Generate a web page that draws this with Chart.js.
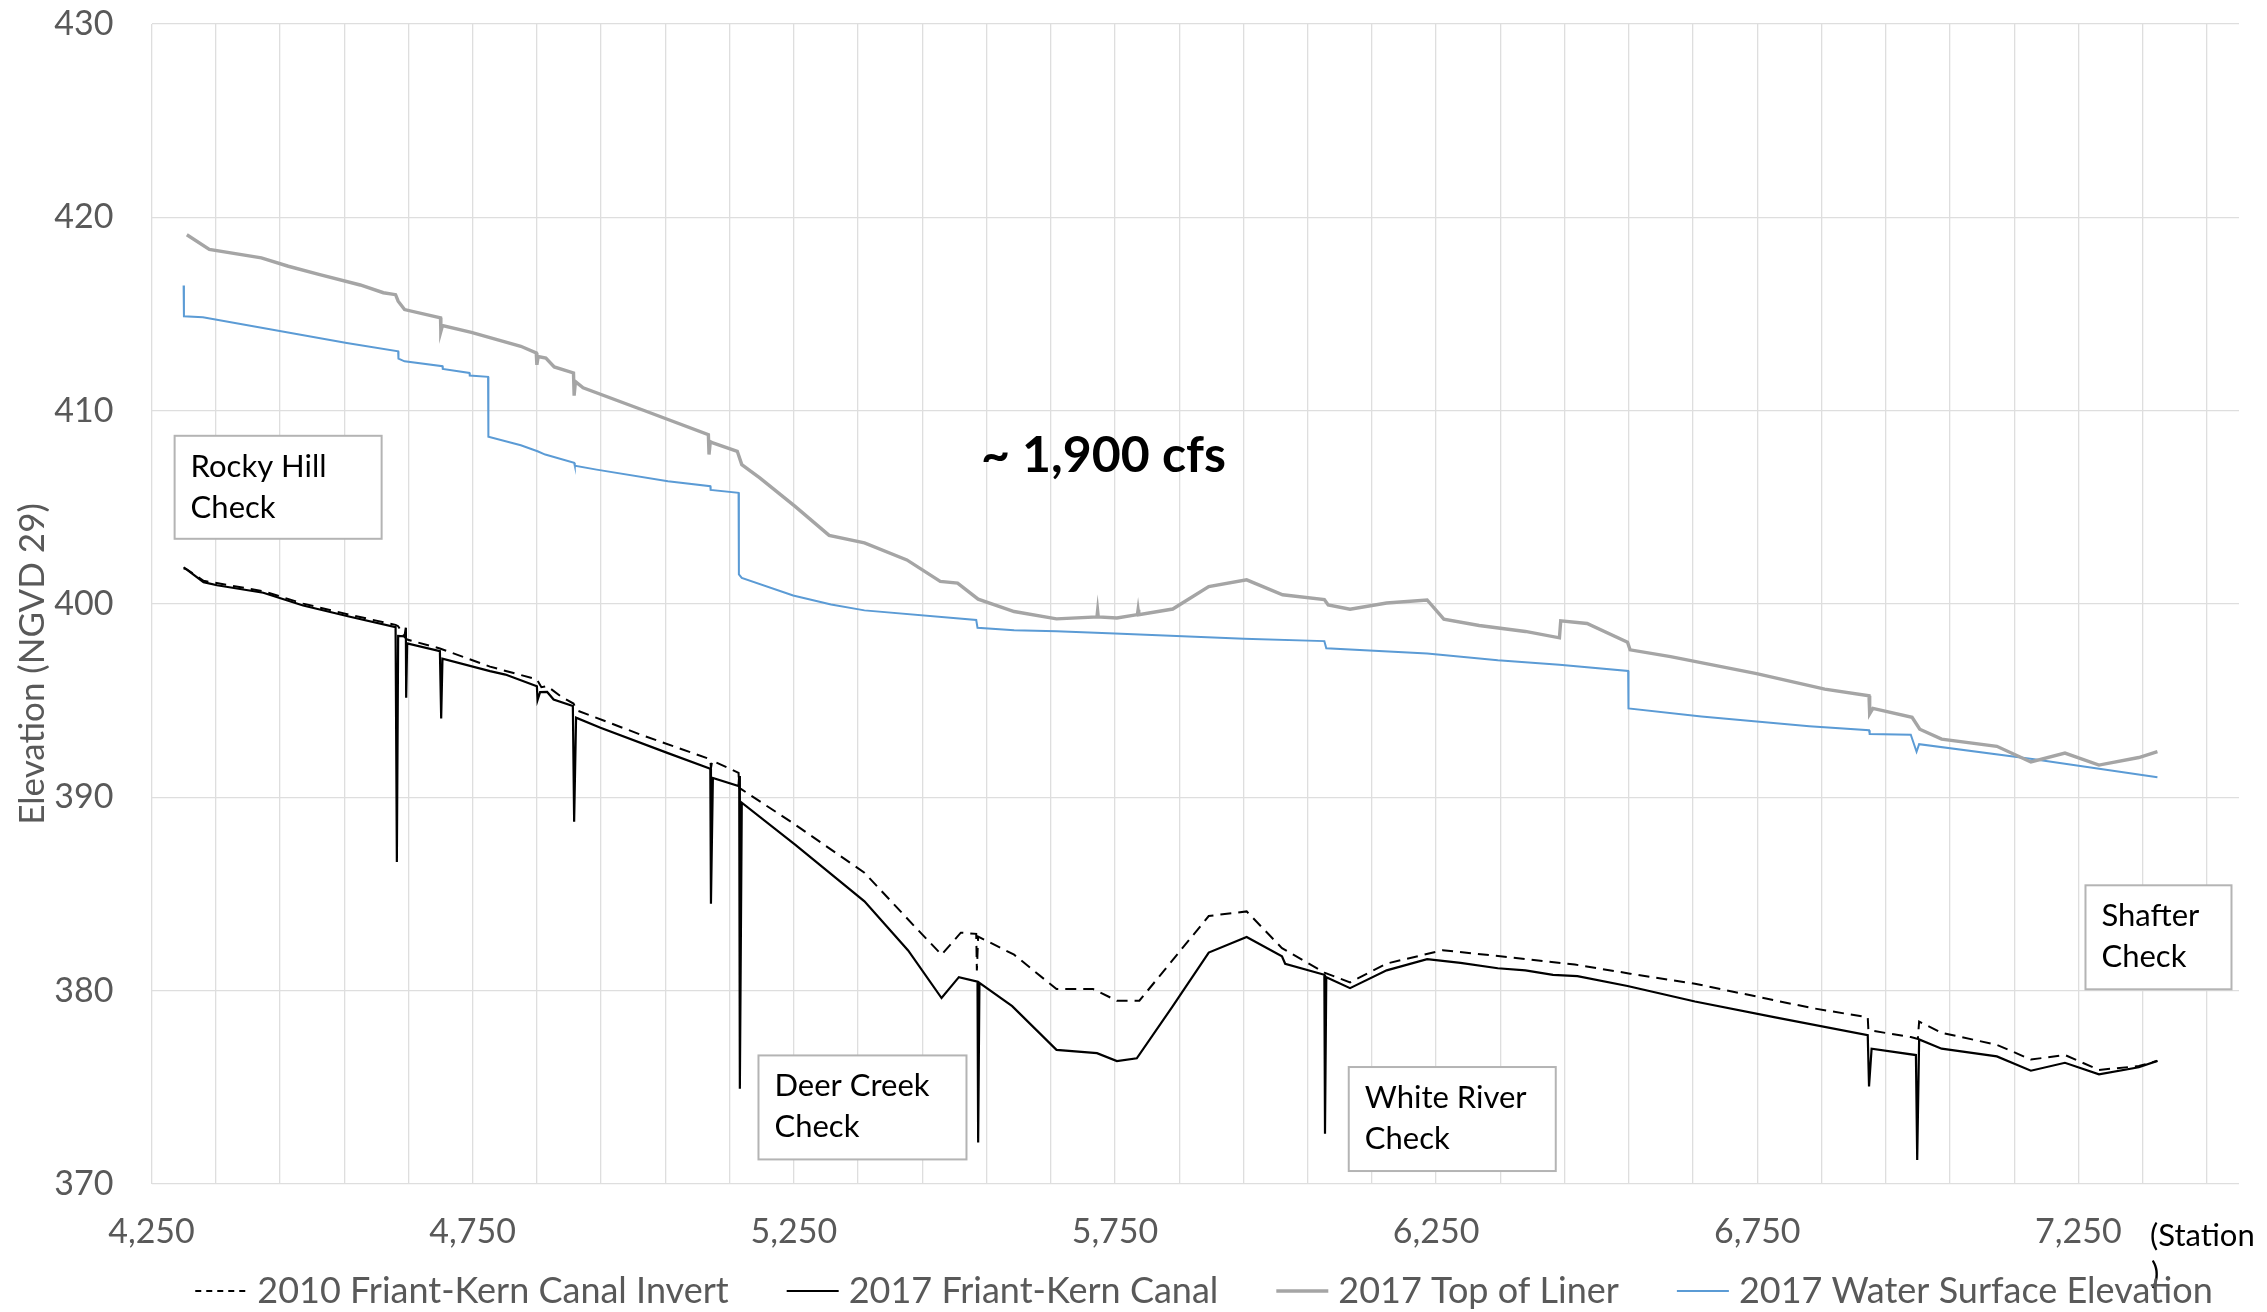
<!DOCTYPE html>
<html>
<head>
<meta charset="utf-8">
<script src="https://cdn.jsdelivr.net/npm/chart.js@4"></script>
<style>
  html, body { margin: 0; padding: 0; background: #fff; }
  #wrap { width: 2267px; height: 1312px; }
</style>
</head>
<body>
<div id="wrap"><canvas id="myChart" width="2267" height="1312"></canvas></div>
<script>
// station labels on the x axis, elevation ticks on the y axis
const stationLabels = [4250, 4750, 5250, 5750, 6250, 6750, 7250];
const elevTicks = [370, 380, 390, 400, 410, 420, 430];

// 2010 Friant-Kern Canal Invert
const invert2010Station = [4300, 4331, 4424, 4486, 4559, 4630, 4634, 4644, 4648, 4699, 4777, 4850, 4857, 4866, 4887, 4907, 4912, 5011, 5120, 5121, 5123, 5164, 5165, 5167, 5249, 5360, 5437, 5480, 5510, 5534, 5535, 5537, 5593, 5659, 5716, 5753, 5788, 5896, 5955, 6010, 6076, 6116, 6173, 6260, 6362, 6466, 6552, 6653, 6835, 6922, 6923, 6989, 7000, 7002, 7037, 7123, 7176, 7229, 7282, 7344, 7373];
const invert2010Elev = [401.9, 401.2, 400.66, 400.02, 399.44, 398.92, 398.85, 398.3, 398.16, 397.7, 396.76, 396.1, 395.7, 395.75, 395.23, 394.85, 394.5, 393.25, 391.97, 391.5, 391.9, 391.27, 390.5, 390.45, 388.66, 386.1, 383.36, 381.86, 383.0, 382.94, 381.05, 382.8, 381.86, 380.08, 380.08, 379.48, 379.48, 383.86, 384.1, 382.2, 380.93, 380.43, 381.4, 382.09, 381.74, 381.35, 380.88, 380.36, 379.1, 378.62, 377.96, 377.6, 377.5, 378.4, 377.82, 377.2, 376.44, 376.67, 375.9, 376.1, 376.37];

// 2017 Friant-Kern Canal
const canal2017Station = [4300, 4304, 4331, 4352, 4424, 4486, 4559, 4630, 4632, 4634, 4644, 4646, 4646.5, 4648, 4699, 4701, 4703, 4777, 4801, 4850, 4851, 4855, 4866, 4876, 4906, 4908, 4911, 4949, 5053, 5120, 5121, 5124, 5164, 5165, 5166, 5169, 5252, 5360, 5428, 5480, 5507, 5536, 5537, 5539, 5590, 5659, 5722, 5753, 5784, 5840, 5896, 5955, 6010, 6015, 6076, 6077, 6079, 6116, 6173, 6236, 6288, 6346, 6389, 6432, 6470, 6548, 6653, 6778, 6922, 6924, 6928, 6997, 6999, 7002, 7037, 7123, 7176, 7229, 7282, 7344, 7373];
const canal2017Elev = [401.85, 401.8, 401.13, 400.97, 400.58, 399.92, 399.34, 398.8, 386.65, 398.35, 398.33, 398.77, 395.15, 397.96, 397.56, 394.08, 397.17, 396.53, 396.35, 395.75, 395.03, 395.44, 395.45, 395.06, 394.72, 388.74, 394.12, 393.6, 392.3, 391.48, 384.5, 391.0, 390.58, 391.1, 374.93, 389.72, 387.55, 384.62, 382.08, 379.62, 380.7, 380.47, 372.15, 380.4, 379.2, 376.94, 376.77, 376.36, 376.5, 379.2, 381.97, 382.78, 381.78, 381.39, 380.82, 372.6, 380.7, 380.13, 381.05, 381.63, 381.44, 381.16, 381.05, 380.82, 380.75, 380.24, 379.44, 378.62, 377.7, 375.05, 377.0, 376.67, 371.24, 377.48, 377.0, 376.6, 375.86, 376.27, 375.67, 376.04, 376.37];

// 2017 Top of Liner
const linerStation = [4305, 4340, 4421, 4463, 4512, 4575, 4611, 4630, 4634, 4644, 4700, 4700.5, 4703, 4748, 4825, 4849, 4850, 4852, 4864, 4877, 4907, 4908, 4910, 4922, 5020, 5117, 5118, 5120, 5124, 5162, 5169, 5197, 5252, 5305, 5360, 5426, 5478, 5505, 5537, 5593, 5659, 5722, 5723, 5724, 5753, 5785, 5786, 5787, 5840, 5896, 5955, 6011, 6076, 6082, 6116, 6173, 6236, 6262, 6317, 6389, 6442, 6444, 6485, 6548, 6552, 6615, 6749, 6855, 6924, 6925, 6930, 6991, 7003, 7037, 7123, 7176, 7229, 7282, 7344, 7373];
const linerElev = [419.1, 418.34, 417.9, 417.47, 417.04, 416.5, 416.1, 416.0, 415.66, 415.23, 414.8, 414.1, 414.4, 414.05, 413.33, 412.99, 412.37, 412.8, 412.72, 412.26, 411.95, 410.78, 411.5, 411.18, 409.97, 408.76, 407.73, 408.4, 408.33, 407.9, 407.21, 406.52, 405.05, 403.55, 403.16, 402.28, 401.17, 401.08, 400.25, 399.61, 399.23, 399.33, 399.65, 399.33, 399.28, 399.45, 399.7, 399.45, 399.74, 400.9, 401.25, 400.48, 400.23, 399.95, 399.73, 400.05, 400.21, 399.22, 398.89, 398.58, 398.25, 399.13, 398.99, 398.02, 397.63, 397.28, 396.4, 395.6, 395.25, 394.32, 394.6, 394.14, 393.52, 393.01, 392.64, 391.83, 392.29, 391.67, 392.06, 392.36];

// 2017 Water Surface Elevation
const waterStation = [4300, 4300.5, 4330, 4554, 4634, 4634.5, 4644, 4703, 4703.5, 4745, 4745.5, 4774, 4774.5, 4825, 4851, 4863, 4908, 4909, 4943, 5054, 5120, 5120.5, 5164, 5164.5, 5169, 5249, 5308, 5360, 5534, 5536, 5593, 5659, 5750, 5951, 6076, 6079, 6236, 6346, 6442, 6549, 6549.5, 6663, 6831, 6924, 6925, 6989, 6998, 7002, 7181, 7373];
const waterElev = [416.47, 414.88, 414.83, 413.5, 413.07, 412.69, 412.55, 412.3, 412.16, 411.95, 411.82, 411.75, 408.65, 408.21, 407.9, 407.73, 407.3, 407.15, 406.95, 406.35, 406.09, 405.9, 405.75, 401.53, 401.35, 400.44, 399.97, 399.67, 399.17, 398.77, 398.64, 398.59, 398.47, 398.2, 398.08, 397.71, 397.44, 397.09, 396.86, 396.54, 394.6, 394.18, 393.68, 393.47, 393.28, 393.24, 392.36, 392.75, 391.97, 391.04];

const FONT = "Lato, 'Open Sans', sans-serif";
const TICK_GREY = "#595959";
const GRID = "#dedede";

const toPoints = (xs, ys) => xs.map((x, i) => ({ x: x, y: ys[i] }));

// vertical gridlines every 100 stations, labels only every 500
const gridStations = [];
for (let s = 4250; s < 7500; s += 100) gridStations.push(s);

// text boxes placed in data units (left station, top elevation)
const notes = [
  { lines: ["Rocky Hill", "Check"], station: 4286, elev: 408.7, w: 207, h: 103 },
  { lines: ["Deer Creek", "Check"], station: 5195, elev: 376.65, w: 208, h: 104 },
  { lines: ["White River", "Check"], station: 6114, elev: 376.05, w: 207, h: 104 },
  { lines: ["Shafter", "Check"], station: 7261, elev: 385.45, w: 146, h: 104 },
];

const extras = {
  id: "extras",
  afterDraw(chart) {
    const ctx = chart.ctx;
    const xs = chart.scales.x;
    const ys = chart.scales.y;
    ctx.save();

    // annotation boxes
    notes.forEach((n) => {
      const left = xs.getPixelForValue(n.station);
      const top = ys.getPixelForValue(n.elev);
      ctx.fillStyle = "#ffffff";
      ctx.fillRect(left, top, n.w, n.h);
      ctx.strokeStyle = "#b4b4b4";
      ctx.lineWidth = 2;
      ctx.strokeRect(left, top, n.w, n.h);
      ctx.fillStyle = "#000000";
      ctx.font = "31px " + FONT;
      ctx.textAlign = "left";
      ctx.textBaseline = "alphabetic";
      ctx.fillText(n.lines[0], left + 16, top + 41);
      ctx.fillText(n.lines[1], left + 16, top + 82);
    });

    // flow annotation
    ctx.font = "bold 50px " + FONT;
    ctx.fillStyle = "#000000";
    ctx.textAlign = "center";
    ctx.fillText("~ 1,900 cfs", xs.getPixelForValue(5732), ys.getPixelForValue(406.85));

    // x axis title, wrapped like the original
    ctx.font = "31px " + FONT;
    ctx.textAlign = "left";
    ctx.fillText("(Station", 2150, 1246);
    ctx.fillText(")", 2151, 1284);

    // y axis title
    ctx.save();
    ctx.translate(33, 664);
    ctx.rotate(-Math.PI / 2);
    ctx.font = "35px " + FONT;
    ctx.fillStyle = TICK_GREY;
    ctx.textAlign = "center";
    ctx.textBaseline = "middle";
    ctx.fillText("Elevation (NGVD 29)", 0, 0);
    ctx.restore();

    // legend
    ctx.font = "36px " + FONT;
    ctx.textBaseline = "middle";
    const lineLen = 52, gapText = 10, gapItem = 58, legendY = 1291;
    const sets = chart.data.datasets;
    const widths = sets.map((d) => lineLen + gapText + ctx.measureText(d.label).width);
    const total = widths.reduce((a, b) => a + b, 0) + gapItem * (sets.length - 1);
    let x = 1204 - total / 2;
    sets.forEach((d, i) => {
      ctx.beginPath();
      ctx.setLineDash(d.borderDash ? [6, 5] : []);
      ctx.strokeStyle = d.borderColor;
      ctx.lineWidth = d.borderWidth;
      ctx.moveTo(x, legendY);
      ctx.lineTo(x + lineLen, legendY);
      ctx.stroke();
      ctx.setLineDash([]);
      ctx.fillStyle = TICK_GREY;
      ctx.textAlign = "left";
      ctx.fillText(d.label, x + lineLen + gapText, legendY);
      x += widths[i] + gapItem;
    });

    ctx.restore();
  },
};

const ctx = document.getElementById("myChart").getContext("2d");
const myChart = new Chart(ctx, {
  type: "line",
  data: {
    datasets: [
      {
        label: "2010 Friant-Kern Canal Invert",
        data: toPoints(invert2010Station, invert2010Elev),
        borderColor: "#000000",
        borderWidth: 2,
        borderDash: [11, 7],
      },
      {
        label: "2017 Friant-Kern Canal",
        data: toPoints(canal2017Station, canal2017Elev),
        borderColor: "#000000",
        borderWidth: 2.2,
      },
      {
        label: "2017 Top of Liner",
        data: toPoints(linerStation, linerElev),
        borderColor: "#a5a5a5",
        borderWidth: 3.4,
      },
      {
        label: "2017 Water Surface Elevation",
        data: toPoints(waterStation, waterElev),
        borderColor: "#5b9bd5",
        borderWidth: 2,
      },
    ],
  },
  options: {
    responsive: false,
    animation: false,
    devicePixelRatio: 1,
    elements: {
      point: { radius: 0, hoverRadius: 0 },
      line: { tension: 0, fill: false },
    },
    layout: { padding: { top: 24, right: 28, bottom: 48, left: 0 } },
    scales: {
      x: {
        type: "linear",
        min: 4250,
        max: 7500,
        afterBuildTicks: (scale) => {
          scale.ticks = gridStations.map((v) => ({ value: v }));
        },
        afterFit: (scale) => {
          scale.height = 80;
        },
        grid: { color: GRID, lineWidth: 1.3, drawTicks: false },
        border: { display: false },
        ticks: {
          autoSkip: false,
          maxRotation: 0,
          padding: 28,
          color: TICK_GREY,
          font: { family: FONT, size: 34 },
          callback: (v) => (stationLabels.includes(v) ? v.toLocaleString("en-US") : ""),
        },
      },
      y: {
        min: 370,
        max: 430,
        afterBuildTicks: (scale) => {
          scale.ticks = elevTicks.map((v) => ({ value: v }));
        },
        afterFit: (scale) => {
          scale.width = 151.5;
          scale.paddingTop = 0;
          scale.paddingBottom = 0;
        },
        grid: { color: GRID, lineWidth: 1.3, drawTicks: false },
        border: { display: false },
        ticks: {
          padding: 38,
          color: TICK_GREY,
          font: { family: FONT, size: 34 },
        },
      },
    },
    plugins: {
      legend: { display: false },
      tooltip: { enabled: false },
    },
  },
  plugins: [extras],
});
</script>
</body>
</html>
